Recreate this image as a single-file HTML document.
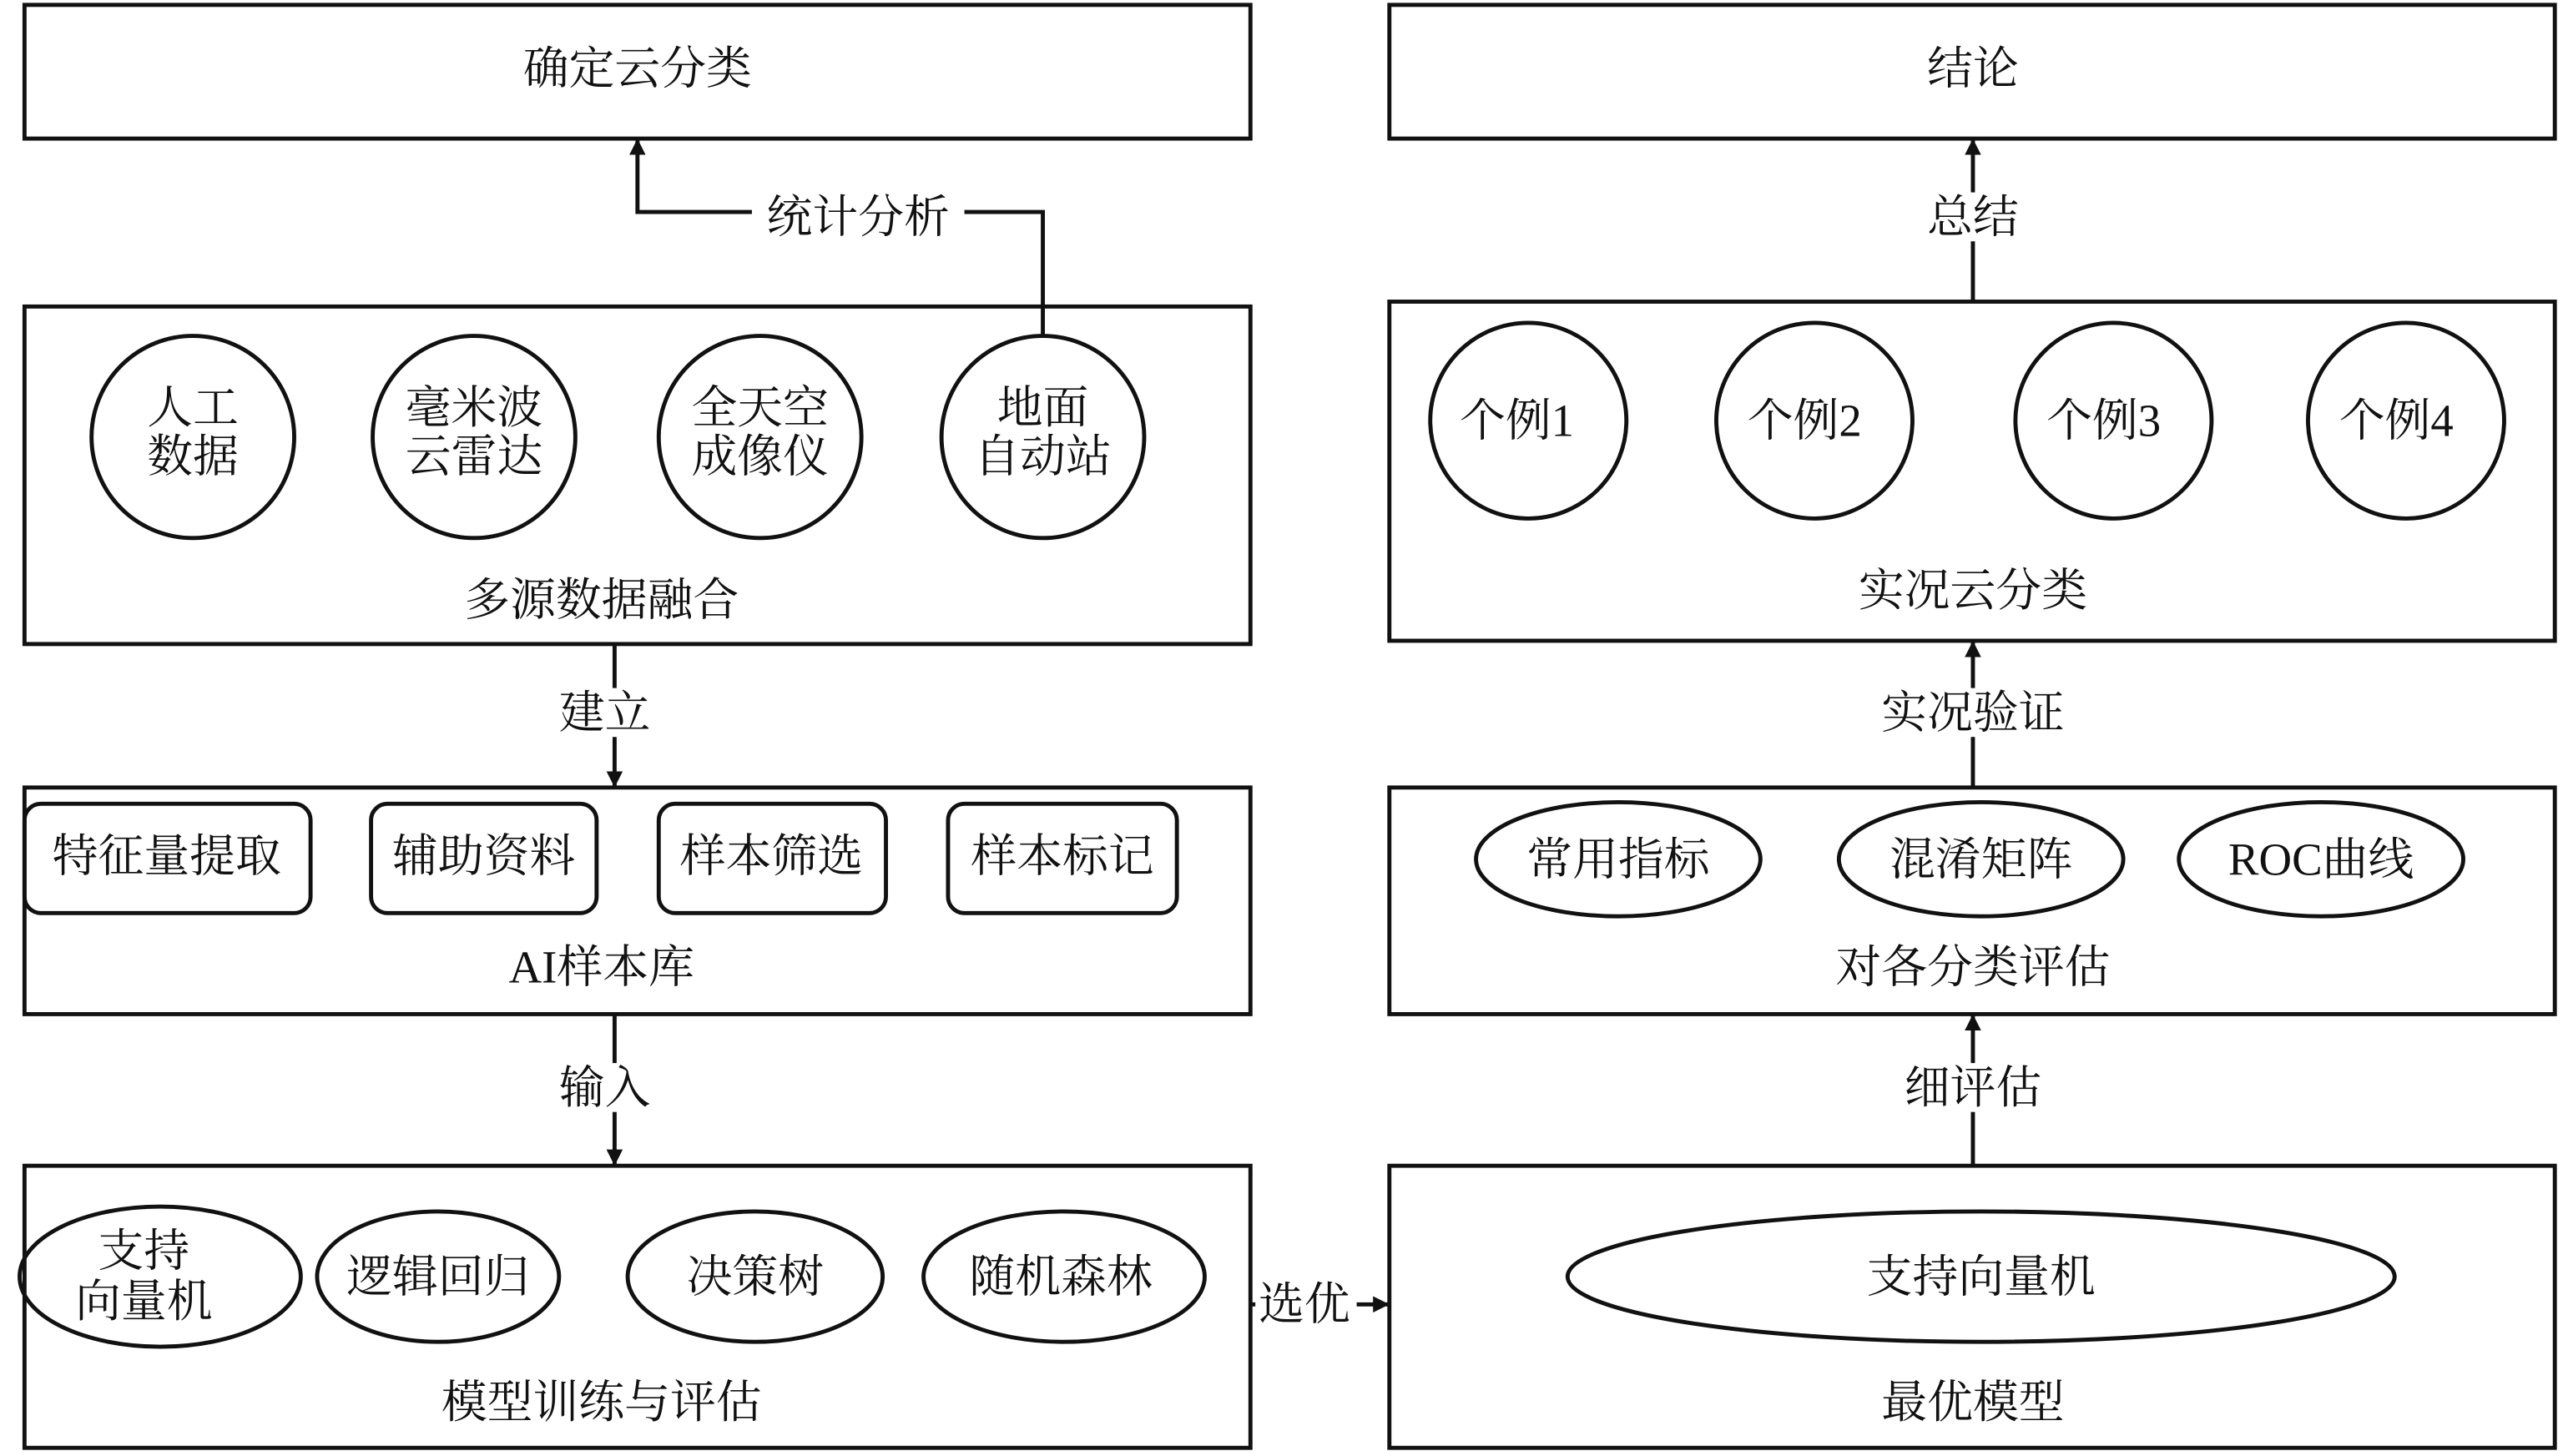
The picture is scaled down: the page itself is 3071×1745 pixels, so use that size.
<!DOCTYPE html>
<html><head><meta charset="utf-8"><style>
html,body{margin:0;padding:0;background:#fff;}
svg{display:block}
text{font-family:"Liberation Serif","Noto Serif CJK SC",serif;font-size:28px;fill:#111;text-anchor:middle;dominant-baseline:central}
.b{fill:none;stroke:#111;stroke-width:2.5}
.l{stroke:#111;stroke-width:2.5;fill:none}
</style></head><body>
<svg width="3071" height="1745" viewBox="0 0 1568 893" preserveAspectRatio="none" xmlns="http://www.w3.org/2000/svg">
<defs><marker id="a" markerWidth="10" markerHeight="10" refX="9" refY="5" orient="auto" markerUnits="userSpaceOnUse"><path d="M0,0 L10,5 L0,10 z" fill="#111"/></marker></defs>
<rect class="b" x="15" y="3" width="750" height="82"/>
<text x="390" y="42">确定云分类</text>
<rect class="b" x="15" y="188" width="750" height="207"/>
<circle class="b" cx="118" cy="268" r="62"/><text x="118" y="250">人工</text><text x="118" y="280">数据</text>
<circle class="b" cx="290" cy="268" r="62"/><text x="290" y="250">毫米波</text><text x="290" y="280">云雷达</text>
<circle class="b" cx="465" cy="268" r="62"/><text x="465" y="250">全天空</text><text x="465" y="280">成像仪</text>
<circle class="b" cx="638" cy="268" r="62"/><text x="638" y="250">地面</text><text x="638" y="280">自动站</text>
<text x="368" y="368">多源数据融合</text>
<path class="l" d="M638,206 L638,130 L390,130 L390,86" marker-end="url(#a)"/>
<rect x="460" y="116" width="130" height="30" fill="#fff"/>
<text x="525" y="133">统计分析</text>

<path class="l" d="M376,395 L376,482" marker-end="url(#a)"/>
<rect x="336" y="422" width="70" height="30" fill="#fff"/><text x="370" y="437">建立</text>

<rect class="b" x="15" y="483" width="750" height="139"/>
<rect class="b" x="15" y="493" width="175" height="67" rx="10"/><text x="102" y="525">特征量提取</text>
<rect class="b" x="227" y="493" width="138" height="67" rx="10"/><text x="296" y="525">辅助资料</text>
<rect class="b" x="403" y="493" width="139" height="67" rx="10"/><text x="472" y="525">样本筛选</text>
<rect class="b" x="580" y="493" width="140" height="67" rx="10"/><text x="650" y="525">样本标记</text>
<text x="368" y="593">AI样本库</text>

<path class="l" d="M376,622 L376,714" marker-end="url(#a)"/>
<rect x="336" y="652" width="70" height="30" fill="#fff"/><text x="370" y="667">输入</text>

<rect class="b" x="15" y="715" width="750" height="173"/>
<ellipse class="b" cx="98" cy="783" rx="86" ry="43"/><text x="88" y="767">支持</text><text x="88" y="798">向量机</text>
<ellipse class="b" cx="268" cy="783" rx="74" ry="40"/><text x="268" y="783">逻辑回归</text>
<ellipse class="b" cx="462" cy="783" rx="78" ry="40"/><text x="462" y="783">决策树</text>
<ellipse class="b" cx="651" cy="783" rx="86" ry="40"/><text x="649" y="783">随机森林</text>
<text x="368" y="860">模型训练与评估</text>

<path class="l" d="M765,800 L849,800" marker-end="url(#a)"/>
<rect x="768" y="786" width="62" height="30" fill="#fff"/><text x="798" y="800">选优</text>

<rect class="b" x="850" y="3" width="713" height="82"/>
<text x="1207" y="42">结论</text>
<path class="l" d="M1207,185 L1207,86" marker-end="url(#a)"/>
<rect x="1172" y="118" width="70" height="30" fill="#fff"/><text x="1207" y="133">总结</text>

<rect class="b" x="850" y="185" width="713" height="208"/>
<circle class="b" cx="935" cy="258" r="60"/><text x="928" y="258">个例1</text>
<circle class="b" cx="1110" cy="258" r="60"/><text x="1104" y="258">个例2</text>
<circle class="b" cx="1293" cy="258" r="60"/><text x="1287" y="258">个例3</text>
<circle class="b" cx="1472" cy="258" r="60"/><text x="1466" y="258">个例4</text>
<text x="1207" y="362">实况云分类</text>

<path class="l" d="M1207,483 L1207,394" marker-end="url(#a)"/>
<rect x="1145" y="422" width="124" height="30" fill="#fff"/><text x="1207" y="437">实况验证</text>

<rect class="b" x="850" y="483" width="713" height="139"/>
<ellipse class="b" cx="990" cy="527" rx="87" ry="35"/><text x="990" y="527">常用指标</text>
<ellipse class="b" cx="1212" cy="527" rx="87" ry="35"/><text x="1212" y="527">混淆矩阵</text>
<ellipse class="b" cx="1420" cy="527" rx="87" ry="35"/><text x="1420" y="527">ROC曲线</text>
<text x="1207" y="593">对各分类评估</text>

<path class="l" d="M1207,715 L1207,623" marker-end="url(#a)"/>
<rect x="1155" y="652" width="104" height="30" fill="#fff"/><text x="1207" y="667">细评估</text>

<rect class="b" x="850" y="715" width="713" height="173"/>
<ellipse class="b" cx="1212" cy="783" rx="253" ry="40"/><text x="1212" y="783">支持向量机</text>
<text x="1207" y="860">最优模型</text>
</svg>
</body></html>
